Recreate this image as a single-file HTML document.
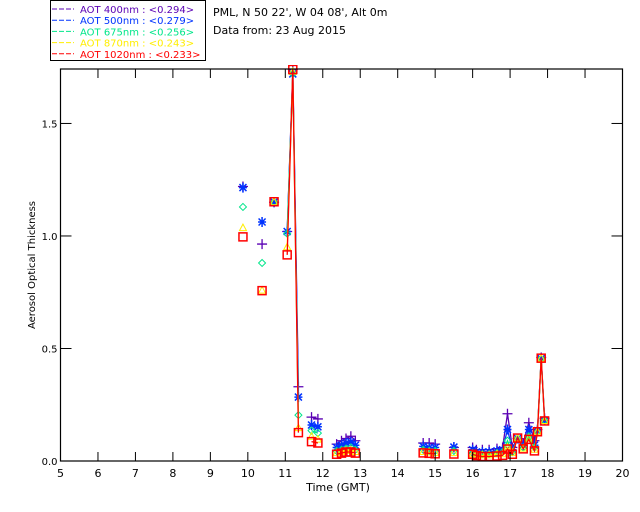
<!DOCTYPE html>
<html><head><meta charset="utf-8"><style>
html,body{margin:0;padding:0;background:#fff;}
svg{display:block;font-family:"DejaVu Sans","Liberation Sans",sans-serif;}
</style></head><body>
<svg id="chart" width="640" height="512" viewBox="0 0 640 512">
<g id="legend">
<rect x="50.5" y="0.5" width="155" height="60" fill="#fff" stroke="#000"/>
</g>
<text x="213" y="16" font-size="11">PML, N 50 22', W 04 08', Alt 0m</text>
<text x="213" y="34" font-size="11">Data from: 23 Aug 2015</text>
<g id="plot"></g>
<text x="338" y="491" font-size="11" text-anchor="middle">Time (GMT)</text>
<text transform="translate(35,265) rotate(-90)" font-size="10" text-anchor="middle">Aerosol Optical Thickness</text>
</svg>
<script>
const times=[9.87,10.38,10.7,11.05,11.2,11.35,11.7,11.87,12.37,12.5,12.62,12.75,12.87,14.68,14.84,15.0,15.5,16.0,16.1,16.26,16.44,16.65,16.8,16.93,17.06,17.2,17.35,17.5,17.65,17.73,17.83,17.92];
const v400=[1.22,0.964,1.15,1.02,1.74,0.33,0.195,0.187,0.075,0.09,0.1,0.11,0.09,0.08,0.08,0.075,0.06,0.06,0.05,0.05,0.05,0.055,0.06,0.21,0.06,0.1,0.08,0.17,0.09,0.14,0.46,0.19];
const v500=[1.215,1.062,1.15,1.02,1.72,0.284,0.16,0.152,0.06,0.07,0.08,0.085,0.07,0.065,0.06,0.06,0.062,0.05,0.04,0.04,0.04,0.045,0.05,0.14,0.05,0.1,0.07,0.14,0.07,0.135,0.455,0.18];
const v675=[1.129,0.88,1.15,1.01,1.72,0.204,0.135,0.124,0.045,0.05,0.055,0.06,0.05,0.05,0.045,0.045,0.045,0.035,0.03,0.03,0.03,0.035,0.04,0.09,0.04,0.1,0.06,0.11,0.06,0.13,0.455,0.18];
const v870=[1.035,0.757,1.15,0.95,1.73,0.146,0.108,0.095,0.035,0.04,0.045,0.048,0.04,0.04,0.038,0.035,0.035,0.03,0.025,0.025,0.025,0.03,0.03,0.06,0.035,0.1,0.055,0.1,0.05,0.13,0.455,0.178];
const v1020=[0.996,0.757,1.152,0.916,1.74,0.126,0.086,0.08,0.03,0.035,0.04,0.04,0.035,0.036,0.034,0.032,0.031,0.03,0.024,0.02,0.02,0.022,0.025,0.053,0.03,0.102,0.054,0.096,0.045,0.13,0.457,0.178];
const seriesNames=["AOT  400nm : <0.294>","AOT  500nm : <0.279>","AOT  675nm : <0.256>","AOT  870nm : <0.243>","AOT 1020nm : <0.233>"];
const xTicks=[5,6,7,8,9,10,11,12,13,14,15,16,17,18,19,20];
const yTicks=[0.0,0.5,1.0,1.5];

const NS="http://www.w3.org/2000/svg";
const L=60.5,R=622.5,T=69,B=461,XMIN=5,XMAX=20,YMIN=0,YMAX=1.742;
const xs=t=>L+(t-XMIN)/(XMAX-XMIN)*(R-L);
const ys=v=>B-(v-YMIN)/(YMAX-YMIN)*(B-T);
const plot=document.getElementById('plot');
function mk(tag,attrs,parent){const e=document.createElementNS(NS,tag);for(const k in attrs)e.setAttribute(k,attrs[k]);(parent||plot).appendChild(e);return e;}

const defs=mk('defs',{});
const cp=mk('clipPath',{id:'clip'},defs);mk('rect',{x:L,y:T-4,width:R-L,height:B-T+4},cp);

const series=[
 {vals:v400,color:'#5a00b4',sym:'plus'},
 {vals:v500,color:'#0033ff',sym:'star'},
 {vals:v675,color:'#00e68a',sym:'diamond'},
 {vals:v870,color:'#ffee00',sym:'tri'},
 {vals:v1020,color:'#ff0000',sym:'square'}
];
const g=mk('g',{'clip-path':'url(#clip)'});


series.forEach((s,si)=>{
  let d='';
  for(let i=0;i<times.length;i++){
    const x=xs(times[i]).toFixed(1),y=ys(s.vals[i]).toFixed(1);
    if(i===0||times[i]-times[i-1]>0.3)d+='M'+x+' '+y;else d+='L'+x+' '+y;
  }
  const p=mk('path',{d:d,fill:'none',stroke:s.color,'stroke-width':1.3},g);
  
  
  for(let i=0;i<times.length;i++){
    const x=xs(times[i]),y=ys(s.vals[i]);let m;
    if(s.sym==='plus')m=mk('path',{d:`M${x-5} ${y}H${x+5}M${x} ${y-5}V${y+5}`,stroke:s.color,'stroke-width':1.3,fill:'none'},g);
    else if(s.sym==='star')m=mk('path',{d:`M${x-4} ${y}H${x+4}M${x} ${y-5}V${y+5}M${x-3.5} ${y-3.5}L${x+3.5} ${y+3.5}M${x-3.5} ${y+3.5}L${x+3.5} ${y-3.5}`,stroke:s.color,'stroke-width':1.5,fill:'none'},g);
    else if(s.sym==='diamond')m=mk('path',{d:`M${x} ${y-3.5}L${x+3.5} ${y}L${x} ${y+3.5}L${x-3.5} ${y}Z`,stroke:s.color,'stroke-width':1,fill:'none'},g);
    else if(s.sym==='tri')m=mk('path',{d:`M${x} ${y-4}L${x+3.5} ${y+2.5}L${x-3.5} ${y+2.5}Z`,stroke:s.color,'stroke-width':1,fill:'none'},g);
    else m=mk('rect',{x:x-4,y:y-4,width:8,height:8,stroke:s.color,'stroke-width':1.5,fill:'none'},g);
    
    
  }
});

// legend entries
const lg=document.getElementById('legend');
series.forEach((s,i)=>{
  const y=11+i*11.2;
  const ln=mk('line',{x1:52,x2:74,y1:y-2,y2:y-2,stroke:s.color,'stroke-width':1,'stroke-dasharray':'5,2'},lg);
  
  
  const t=mk('text',{x:80,y:y+2,'font-size':10,fill:s.color,'xml:space':'preserve'},lg);
  
  
  t.textContent=seriesNames[i];
});

// frame
const fr=mk('rect',{x:L,y:T,width:R-L,height:B-T,fill:'none',stroke:'#000','stroke-width':1.2});


xTicks.forEach(v=>{
  const x=xs(v);
  mk('line',{x1:x,x2:x,y1:B,y2:B-9,stroke:'#000','stroke-width':1});
  mk('line',{x1:x,x2:x,y1:T,y2:T+9,stroke:'#000','stroke-width':1});
  const t=mk('text',{x:x,y:B+16,'font-size':11,'text-anchor':'middle'});
  
  
  t.textContent=v;
});
yTicks.forEach(v=>{
  const y=ys(v);
  mk('line',{x1:L,x2:L+11,y1:y,y2:y,stroke:'#000','stroke-width':1});
  mk('line',{x1:R,x2:R-11,y1:y,y2:y,stroke:'#000','stroke-width':1});
  const t=mk('text',{x:L-3,y:y+4,'font-size':10,'text-anchor':'end'});
  
  
  t.textContent=v.toFixed(1);
});
</script>
</body></html>
